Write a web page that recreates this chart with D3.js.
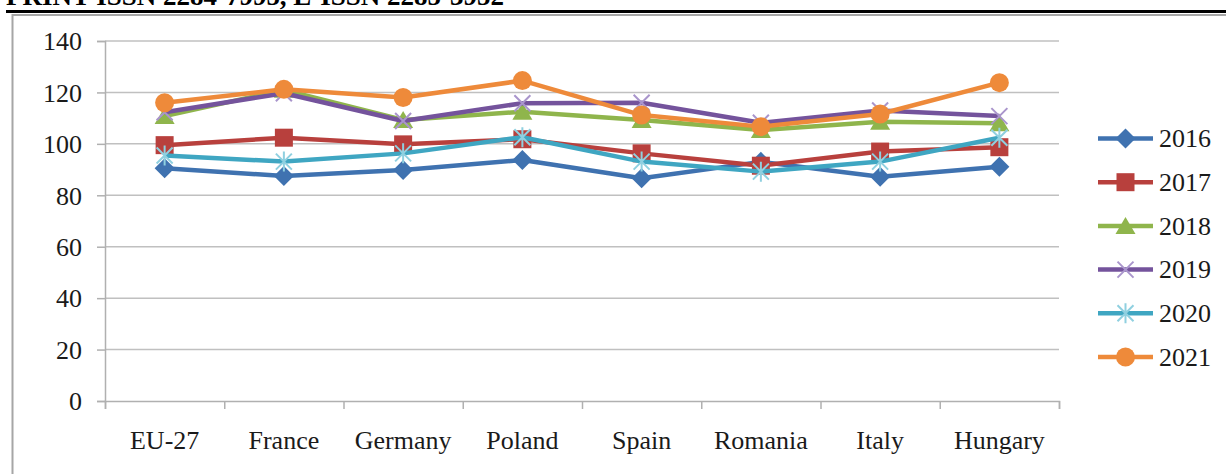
<!DOCTYPE html>
<html>
<head>
<meta charset="utf-8">
<script src="https://d3js.org/d3.v7.min.js"></script>
<style>
  html, body { margin: 0; padding: 0; background: #ffffff; }
  svg { display: block; }
  text { font-family: "Liberation Serif", "Times New Roman", serif; fill: #1a1a1a; }
</style>
</head>
<body>
<svg id="chart" width="1226" height="474"></svg>
<script>
// Index values by country, one array per year
const categories = ["EU-27", "France", "Germany", "Poland", "Spain", "Romania", "Italy", "Hungary"];
const years = ["2016", "2017", "2018", "2019", "2020", "2021"];
const values2016 = [90.5, 87.5, 89.8, 93.7, 86.6, 93.0, 87.2, 91.1];
const values2017 = [99.5, 102.4, 99.8, 101.8, 96.3, 91.5, 97.0, 98.7];
const values2018 = [110.8, 121.0, 109.3, 112.5, 109.3, 105.4, 108.6, 108.0];
const values2019 = [112.3, 119.7, 108.9, 115.8, 116.0, 108.2, 113.0, 110.8];
const values2020 = [95.5, 93.1, 96.3, 102.6, 93.1, 89.2, 93.1, 102.4];
const values2021 = [116.0, 121.2, 118.0, 124.6, 111.2, 106.7, 111.6, 123.8];
const yTicks = [0, 20, 40, 60, 80, 100, 120, 140];
const headerText = "PRINT ISSN 2284-7995, E-ISSN 2285-3952";

const seriesValues = [values2016, values2017, values2018, values2019, values2020, values2021];
const colors = ["#3f72b0", "#b8403d", "#8fb54c", "#74539c", "#3fa6c2", "#ee8a3a"];
const markerLight = ["#3f72b0", "#b8403d", "#8fb54c", "#a995cc", "#8fd0e0", "#ee8a3a"];
const shapes = ["diamond", "square", "triangle", "cross", "star", "circle"];

const svg = d3.select("#chart");

// Header strip
svg.append("text")
  .attr("x", 6).attr("y", 5)
  .attr("font-size", 27).attr("font-weight", "bold")
  .attr("textLength", 498).attr("lengthAdjust", "spacingAndGlyphs")
  .style("fill", "#000")
  .text(headerText);
svg.append("line")
  .attr("x1", 6).attr("x2", 1226).attr("y1", 11.5).attr("y2", 11.5)
  .attr("stroke", "#000").attr("stroke-width", 3);

// Chart frame
svg.append("rect")
  .attr("x", 12.5).attr("y", 15).attr("width", 1230).attr("height", 480)
  .attr("fill", "none").attr("stroke", "#a6a6a6").attr("stroke-width", 2);

const plot = { left: 105, right: 1059, top: 41, bottom: 401 };

const x = d3.scaleBand().domain(categories).range([plot.left, plot.right]);
const xEdges = d3.scaleLinear().domain([0, categories.length]).range([plot.left, plot.right]);
const y = d3.scaleLinear().domain([0, 140]).range([plot.bottom, plot.top]);

// Horizontal gridlines
svg.append("g")
  .selectAll("line")
  .data(yTicks.filter(d => d > 0))
  .join("line")
  .attr("x1", plot.left).attr("x2", plot.right)
  .attr("y1", d => y(d)).attr("y2", d => y(d))
  .attr("stroke", "#c0c0c0").attr("stroke-width", 1.5);

// Y axis
const yAxis = svg.append("g")
  .attr("transform", `translate(${plot.left},0)`)
  .call(d3.axisLeft(y).tickValues(yTicks).tickSize(8).tickPadding(15));
yAxis.select(".domain").attr("stroke", "#b0b0b0").attr("stroke-width", 1.5);
yAxis.selectAll(".tick line").attr("stroke", "#b0b0b0").attr("stroke-width", 1.5);
yAxis.selectAll(".tick text")
  .attr("font-size", 26).attr("font-family", "Liberation Serif, serif")
  .attr("fill", "#1a1a1a").attr("dy", "0.34em");

// X axis: line with ticks on category boundaries
const xTickAxis = svg.append("g")
  .attr("transform", `translate(0,${plot.bottom})`)
  .call(d3.axisBottom(xEdges).tickValues(d3.range(categories.length + 1)).tickSize(8).tickFormat(""));
xTickAxis.select(".domain").attr("stroke", "#b0b0b0").attr("stroke-width", 1.5);
xTickAxis.selectAll(".tick line").attr("stroke", "#b0b0b0").attr("stroke-width", 1.5);

// Category labels
const xLabelAxis = svg.append("g")
  .attr("transform", `translate(0,${plot.bottom})`)
  .call(d3.axisBottom(x).tickSize(0));
xLabelAxis.select(".domain").remove();
xLabelAxis.selectAll(".tick text")
  .attr("font-size", 26).attr("font-family", "Liberation Serif, serif")
  .attr("fill", "#1a1a1a").attr("y", 48).attr("dy", 0);

// Marker drawing
function drawMarker(g, shape, color, light, cx, cy) {
  if (shape === "diamond") {
    g.append("path")
      .attr("d", `M${cx},${cy - 10}L${cx + 10},${cy}L${cx},${cy + 10}L${cx - 10},${cy}Z`)
      .attr("fill", color);
  } else if (shape === "square") {
    g.append("rect")
      .attr("x", cx - 9).attr("y", cy - 9).attr("width", 18).attr("height", 18)
      .attr("fill", color);
  } else if (shape === "triangle") {
    g.append("path")
      .attr("d", `M${cx},${cy - 9}L${cx + 10},${cy + 8}L${cx - 10},${cy + 8}Z`)
      .attr("fill", color);
  } else if (shape === "cross") {
    g.append("path")
      .attr("d", `M${cx - 8},${cy - 8}L${cx + 8},${cy + 8}M${cx + 8},${cy - 8}L${cx - 8},${cy + 8}`)
      .attr("stroke", light).attr("stroke-width", 2).attr("fill", "none");
  } else if (shape === "star") {
    g.append("path")
      .attr("d", `M${cx - 8},${cy - 8}L${cx + 8},${cy + 8}M${cx + 8},${cy - 8}L${cx - 8},${cy + 8}M${cx},${cy - 10}L${cx},${cy + 10}`)
      .attr("stroke", light).attr("stroke-width", 2).attr("fill", "none");
  } else if (shape === "circle") {
    g.append("circle").attr("cx", cx).attr("cy", cy).attr("r", 9.5).attr("fill", color);
  }
}

// Series lines and markers
const line = d3.line()
  .x((d, i) => x(categories[i]) + x.bandwidth() / 2)
  .y(d => y(d));

seriesValues.forEach((vals, s) => {
  const g = svg.append("g");
  g.append("path")
    .datum(vals)
    .attr("d", line)
    .attr("fill", "none")
    .attr("stroke", colors[s])
    .attr("stroke-width", 4.5)
    .attr("stroke-linejoin", "round");
  vals.forEach((v, i) => {
    drawMarker(g, shapes[s], colors[s], markerLight[s], x(categories[i]) + x.bandwidth() / 2, y(v));
  });
});

// Legend
const legend = svg.append("g");
years.forEach((yr, s) => {
  const ly = 138.5 + s * 43.7;
  const g = legend.append("g");
  g.append("line")
    .attr("x1", 1098).attr("x2", 1153).attr("y1", ly).attr("y2", ly)
    .attr("stroke", colors[s]).attr("stroke-width", 4.5);
  drawMarker(g, shapes[s], colors[s], markerLight[s], 1125.5, ly);
  g.append("text")
    .attr("x", 1159).attr("y", ly).attr("dy", "0.34em")
    .attr("font-size", 26)
    .text(yr);
});
</script>
</body>
</html>
